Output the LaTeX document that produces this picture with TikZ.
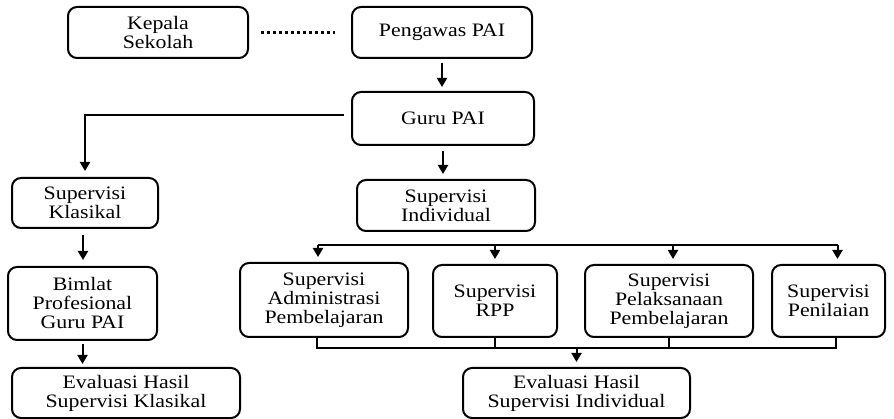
\documentclass[tikz,border=0pt]{standalone}
\usepackage{fontspec}
\setmainfont[FakeStretch=1.15]{Liberation Serif}
\usetikzlibrary{positioning}
\usetikzlibrary{calc}
\usetikzlibrary{arrows.meta}

\begin{document}
\begin{tikzpicture}[x=1pt, y=-1pt,
  kotak/.style={align=center, draw, line width=2pt, rounded corners=9pt,
    inner sep=0pt, font=\fontsize{19}{19}\selectfont},
  panah/.style={line width=2pt, -{Triangle[width=10pt,length=9pt]}},
  garis/.style={line width=2pt}]

\useasboundingbox (0,0) rectangle (894,419);

\pgfmathsetmacro{\GAP}{5}

% baris atas
\node [kotak, minimum width=180pt, minimum height=51pt] (kepala) at (158, 32.5) {Kepala\\Sekolah};
\node [kotak, minimum width=180pt, minimum height=51pt] (pengawas) at (442, 32.5) {Pengawas PAI};
\node [kotak, minimum width=182pt, minimum height=53pt] (guru) at (443, 118.5) {Guru PAI};

% kolom kiri
\node [kotak, minimum width=146pt, minimum height=50pt] (sklas) at (85, 203) {Supervisi\\Klasikal};
\node [kotak, minimum width=149pt, minimum height=73pt] (bimlat) at (82.5, 303.5) {Bimlat\\Profesional\\Guru PAI};
\node [kotak, minimum width=228pt, minimum height=50pt] (evalk) at (126, 393) {Evaluasi Hasil\\Supervisi Klasikal};

% kolom kanan
\node [kotak, minimum width=178pt, minimum height=51pt] (sindiv) at (446, 205.5) {Supervisi\\Individual};
\node [kotak, minimum width=168pt, minimum height=74pt] (admin) at (324, 300) {Supervisi\\Administrasi\\Pembelajaran};
\node [kotak, minimum width=124pt, minimum height=72pt] (rpp) at (495, 301) {Supervisi\\RPP};
\node [kotak, minimum width=168pt, minimum height=72pt] (pelak) at (669, 301) {Supervisi\\Pelaksanaan\\Pembelajaran};
\node [kotak, minimum width=113pt, minimum height=72pt] (penil) at (828.5, 301) {Supervisi\\Penilaian};
\node [kotak, minimum width=227pt, minimum height=50pt] (evali) at (576.5, 393) {Evaluasi Hasil\\Supervisi Individual};

\coordinate (bus) at (0, 245);
\coordinate (bus2) at (0, 348);

\draw [line width=2.2pt, dash pattern=on 2.5pt off 3.5pt, shorten <=12pt, shorten >=16pt] (kepala.east) -- (pengawas.west);

\draw [panah, shorten <=4pt, shorten >=4pt] (pengawas.south) -- (pengawas.south |- guru.north);
\draw [panah, shorten <=7pt, shorten >=6pt] ($(guru.west) + (0, -3)$) -| (sklas.north);
\draw [panah, shorten <=5pt, shorten >=5pt] (guru.south) -- (guru.south |- sindiv.north);

\draw [panah, shorten <=6pt, shorten >=6pt] ($(sklas.south) + (-2, 0)$) -- ($(sklas.south |- bimlat.north) + (-2, 0)$);
\draw [panah, shorten <=3pt, shorten >=3pt] (bimlat.south) -- (bimlat.south |- evalk.north);

\draw [garis] ($(admin.north |- bus) + (-6, 0)$) -- ($(penil.north |- bus) + (9, 0)$);
\draw [panah, shorten >=\GAP pt] ($(admin.north |- bus) + (-6, 0)$) -- ($(admin.north) + (-6, 0)$);
\draw [panah, shorten >=\GAP pt] (rpp.north |- bus) -- (rpp.north);
\draw [panah, shorten >=\GAP pt] ($(pelak.north |- bus) + (4, 0)$) -- ($(pelak.north) + (4, 0)$);
\draw [panah, shorten >=\GAP pt] ($(penil.north |- bus) + (9, 0)$) -- ($(penil.north) + (9, 0)$);

\draw [garis] ($(admin.south) + (-7, 0)$) -- ($(admin.south |- bus2) + (-7, 0)$) -- ($(penil.south |- bus2) + (7, 0)$) -- ($(penil.south) + (7, 0)$);
\draw [garis] (rpp.south) -- (rpp.south |- bus2);
\draw [garis] (pelak.south) -- (pelak.south |- bus2);
\draw [panah, shorten >=\GAP pt] (evali.north |- bus2) -- (evali.north);

\end{tikzpicture}
\end{document}
